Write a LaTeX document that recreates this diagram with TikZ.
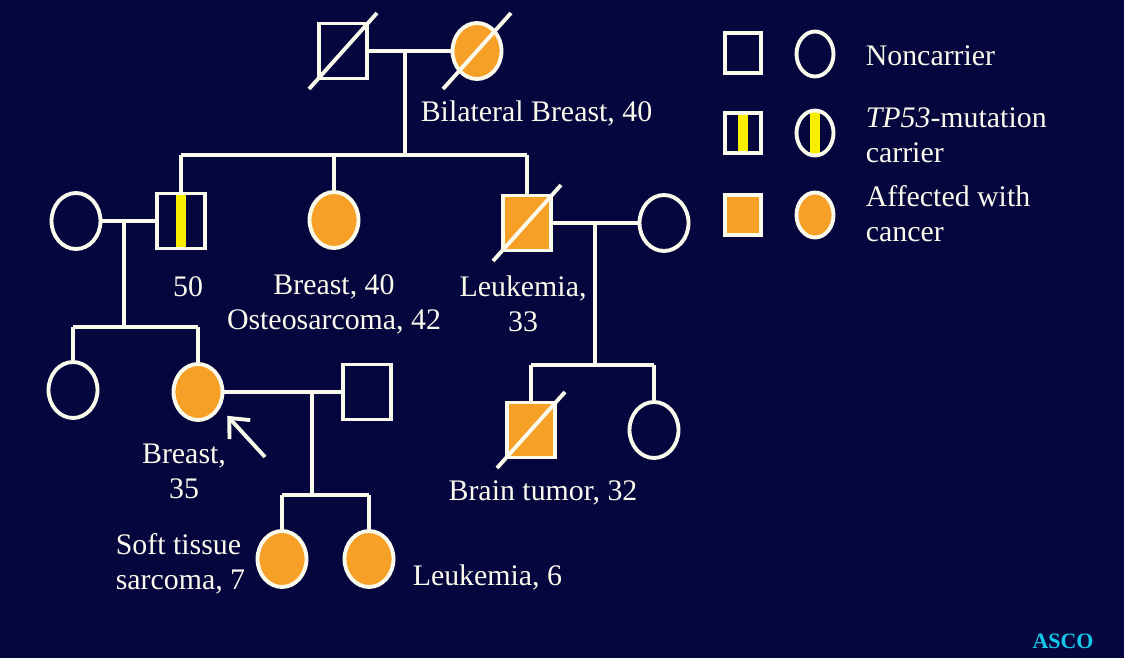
\documentclass[tikz,border=0pt]{standalone}
\usepackage{fontspec}
\setmainfont{Liberation Serif}
\usetikzlibrary{shapes.geometric}
\usetikzlibrary{arrows.meta}
\definecolor{navy}{RGB}{6,6,62}
\definecolor{cancer}{RGB}{247,160,40}
\definecolor{mutation}{RGB}{250,238,0}
\definecolor{chalk}{RGB}{250,250,236}
\definecolor{asco}{RGB}{20,200,235}

\begin{document}
\begin{tikzpicture}[x=0.02cm,y=-0.02cm,line width=2.2pt,
        every node/.style={text=chalk,font=\fontsize{17}{20}\selectfont},
        male/.style={draw=chalk,rectangle,inner sep=0pt,minimum width=0.96cm,minimum height=1.1cm},
        female/.style={draw=chalk,ellipse,inner sep=0pt,minimum width=0.98cm,minimum height=1.12cm},
        keybox/.style={minimum width=0.72cm,minimum height=0.8cm},
        keyring/.style={minimum width=0.74cm,minimum height=0.9cm},
        ill/.style={fill=cancer},
        carrier/.style={path picture={\fill[mutation] ([xshift=-0.1cm]path picture bounding box.south) rectangle ([xshift=0.1cm]path picture bounding box.north);}},
        link/.style={draw=chalk}]
            \fill[navy] (0,0) rectangle (1124,658);
            \useasboundingbox (0,0) rectangle (1124,658);
            % generation I
            \node[male] (gf) at (343,51) {};
            \node[female,ill] (gm) at (477,51) {};
            \draw[link] (gf) -- (gm);
            \coordinate (m1) at (405,51);
            \coordinate (s1) at (405,155);
            \coordinate (s1a) at (181,155);
            \coordinate (s1c) at (527,155);
            \draw[link] (m1) -- (s1);
            \draw[link] (s1a) -- (s1c);
            \node[anchor=west] (lgm) at (413,113) {Bilateral Breast, 40};
            % generation II
            \node[female] (mom) at (76,221) {};
            \node[male,carrier] (dad) at (181,221) {};
            \node[female,ill] (aunt) at (334,220) {};
            \node[male,ill] (uncle) at (527,223) {};
            \node[female] (wife) at (664,223) {};
            \draw[link] (s1a) -- (dad);
            \draw[link] (aunt |- s1a) -- (aunt);
            \draw[link] (s1c) -- (uncle);
            \draw[link] (mom) -- (dad);
            \draw[link] (uncle) -- (wife);
            \node (l50) at (188,287) {50};
            \node[align=center] (launt) at (334,304) {Breast, 40\\Osteosarcoma, 42};
            \node[align=center] (luncle) at (523,304) {Leukemia,\\33};
            % generation III
            \coordinate (m2) at (124,221);
            \coordinate (s2) at (124,327);
            \draw[link] (m2) -- (s2);
            \node[female] (sis) at (73,390) {};
            \node[female,ill] (pro) at (198,392) {};
            \node[male] (hub) at (367,392) {};
            \draw[link] (sis |- s2) -- (pro |- s2);
            \draw[link] (sis |- s2) -- (sis);
            \draw[link] (pro |- s2) -- (pro);
            \draw[link] (pro) -- (hub);
            \coordinate (ptr) at (265,457);
            \draw[link,-{Straight Barb[length=9pt,width=16pt]}] (ptr) -- ([shift={(8,6)}]pro.-40);
            \node[align=center] (lpro) at (184,471) {Breast,\\35};
            \coordinate (m3) at (595,223);
            \coordinate (s3) at (595,365);
            \draw[link] (m3) -- (s3);
            \node[male,ill] (cousin) at (531,430) {};
            \node[female] (cousin2) at (654,430) {};
            \draw[link] (cousin |- s3) -- (cousin2 |- s3);
            \draw[link] (cousin |- s3) -- (cousin);
            \draw[link] (cousin2 |- s3) -- (cousin2);
            \node (lcousin) at (543,493) {Brain tumor, 32};
            % generation IV
            \coordinate (m4) at (312,392);
            \coordinate (s4) at (312,495);
            \draw[link] (m4) -- (s4);
            \node[female,ill] (kid1) at (282,559) {};
            \node[female,ill] (kid2) at (369,559) {};
            \draw[link] (kid1 |- s4) -- (kid2 |- s4);
            \draw[link] (kid1 |- s4) -- (kid1);
            \draw[link] (kid2 |- s4) -- (kid2);
            \node[anchor=west,align=left] (lkid1) at (108,564) {Soft tissue\\sarcoma, 7};
            \node[anchor=west] (lkid2) at (405,577) {Leukemia, 6};
            % deceased
            \foreach \who in {gf,gm,uncle,cousin}
                \draw[link] (\who.center) ++(-34,38) -- ++(68,-76);
            % key
            \node[male,keybox] (k1) at (743,53) {};
            \node[female,keyring] (k2) at (815,54) {};
            \node[male,keybox,carrier] (k3) at (743,133) {};
            \node[female,keyring,carrier] (k4) at (815,133) {};
            \node[male,keybox,ill] (k5) at (743,215) {};
            \node[female,keyring,ill] (k6) at (815,215) {};
            \node[anchor=west] (t1) at (858,56) {Noncarrier};
            \node[anchor=west,align=left] (t2) at (858,135) {\textit{TP53}-mutation\\carrier};
            \node[anchor=west,align=left] (t3) at (858,214) {Affected with\\cancer};
            \node[text=asco,font=\bfseries\fontsize{12.5}{14}\selectfont] (asco) at (1063,641) {ASCO};
        \end{tikzpicture}
\end{document}
